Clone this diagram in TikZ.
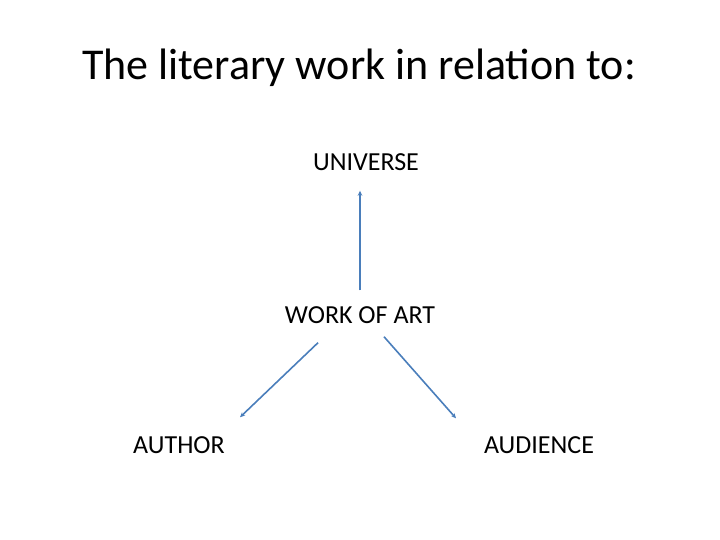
\documentclass[tikz,border=0pt]{standalone}
\usepackage{fontspec}
\setmainfont{Carlito}
\usetikzlibrary{arrows.meta}
\definecolor{linkblue}{HTML}{4A7EBB}

\begin{document}
\begin{tikzpicture}[x=1pt, y=1pt,
    label/.style={font=\fontsize{26}{31}\selectfont, inner sep=2pt},
    arr/.style={linkblue, line width=1.6pt, -{Stealth[length=5pt, width=4.5pt]}}]
  % Slide area
  \useasboundingbox (0,0) rectangle (720,540);

  % Title
  \node[font=\fontsize{44}{52}\selectfont] (title) at (359,472) {The literary work in relation to:};

  % Terms
  \node[label] (universe) at (366,378) {UNIVERSE};
  \node[label] (work) at (360,225) {WORK OF ART};
  \node[label] (author) at (179,95) {AUTHOR};
  \node[label] (audience) at (539,95) {AUDIENCE};

  % Arrows from the work
  \draw[arr] ([yshift=14pt]work.north) -- ([xshift=-6pt, yshift=-18pt]universe.south);
  \draw[arr] ([shift={(-42,-17)}]work.south) -- ([shift={(61,17)}]author.north);
  \draw[arr] ([shift={(24,-11)}]work.south) -- ([shift={(-83,16)}]audience.north);
\end{tikzpicture}
\end{document}
